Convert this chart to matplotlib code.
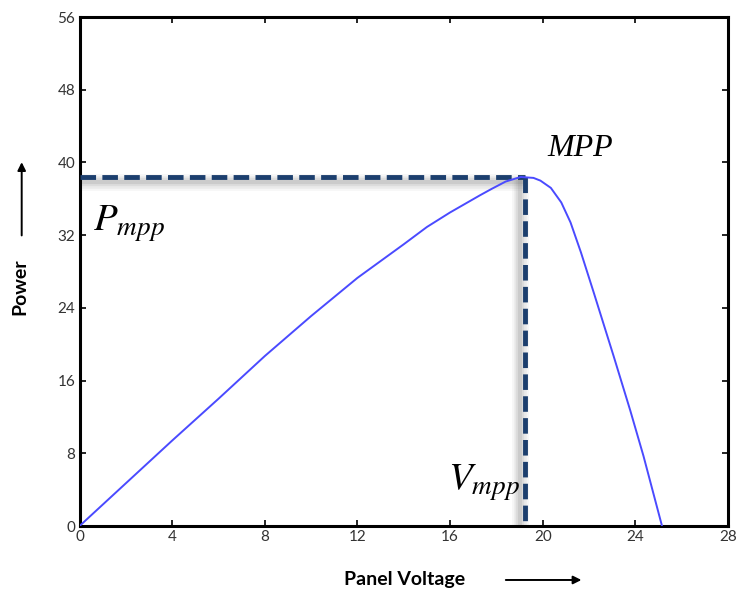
import matplotlib
matplotlib.use("Agg")
import matplotlib.pyplot as plt
import matplotlib.transforms as mtransforms

# ---- data ----
voltage = [0, 2, 4, 6, 8, 10, 12, 14, 15, 16, 17.3, 17.8, 18.4, 19.05, 19.6,
           19.9, 20.35, 20.8, 21.2, 21.65, 22.2, 23.06, 23.78, 24.35, 25.15]
power = [0, 4.7, 9.4, 14.0, 18.7, 23.1, 27.3, 31.0, 32.9, 34.5, 36.4, 37.1,
         37.9, 38.4, 38.3, 38.0, 37.2, 35.6, 33.4, 30.1, 25.7, 18.7, 12.7, 7.7, 0]
v_mpp = 19.23
p_mpp = 38.4
x_ticks = [0, 4, 8, 12, 16, 20, 24, 28]
y_ticks = [0, 8, 16, 24, 32, 40, 48, 56]

plt.rcParams['mathtext.fontset'] = 'stix'

fig = plt.figure(figsize=(7.48, 5.97), dpi=100)
ax = fig.add_axes([0.1063, 0.1189, 0.867, 0.8526])

ax.plot(voltage, power, color='#4a4aff', lw=1.4, zorder=4,
        solid_joinstyle='round')

# soft shadows of the MPP guide lines
navy = '#1c3f6e'
for off, lw, a in [(5, 12, 0.05), (5, 9, 0.07), (5, 6, 0.09), (5, 3, 0.12)]:
    tr_h = mtransforms.offset_copy(ax.transData, fig=fig, x=0, y=-off, units='dots')
    ax.plot([0, v_mpp], [p_mpp, p_mpp], color='#555555', lw=lw, alpha=a,
            transform=tr_h, solid_capstyle='butt', zorder=2)
    tr_v = mtransforms.offset_copy(ax.transData, fig=fig, x=-off, y=0, units='dots')
    ax.plot([v_mpp, v_mpp], [p_mpp, 0], color='#555555', lw=lw, alpha=a,
            transform=tr_v, solid_capstyle='butt', zorder=2)

ax.plot([0, v_mpp], [p_mpp, p_mpp], color=navy, lw=3.5,
        dashes=(3.2, 1.3), zorder=3)
ax.plot([v_mpp, v_mpp], [p_mpp, 0], color=navy, lw=3.5,
        dashes=(3.2, 1.3), zorder=3)

ax.text(20.2, 40.7, 'MPP', fontsize=23, fontstyle='italic',
        family='Liberation Serif', ha='left', va='baseline')
ax.text(0.6, 32.5, r'$P_{mpp}$', fontsize=28, ha='left', va='baseline')
ax.text(15.9, 3.95, r'$V_{mpp}$', fontsize=28, ha='left', va='baseline')

ax.set_xlim(0, 28)
ax.set_ylim(0, 56)
ax.set_xticks(x_ticks)
ax.set_yticks(y_ticks)
ax.tick_params(direction='in', length=4, width=1.2, top=True, right=True,
               labelsize=11, labelcolor='#333333', pad=3)
for lab in ax.get_xticklabels() + ax.get_yticklabels():
    lab.set_family('Lato')
for s in ax.spines.values():
    s.set_linewidth(2.2)

fig.text(0.541, 0.0285, 'Panel Voltage', fontsize=14, fontweight='bold',
         family='Lato', ha='center', va='center')
fig.text(0.027, 0.52, 'Power', fontsize=14, fontweight='bold',
         family='Lato', ha='center', va='center', rotation=90)
fig.add_artist(matplotlib.patches.FancyArrowPatch(
    (0.6725, 0.0285), (0.781, 0.0285), transform=fig.transFigure,
    arrowstyle='-|>', mutation_scale=12, color='black', lw=1.4))
fig.add_artist(matplotlib.patches.FancyArrowPatch(
    (0.029, 0.601), (0.029, 0.733), transform=fig.transFigure,
    arrowstyle='-|>', mutation_scale=12, color='black', lw=1.4))

fig.savefig('out.png', dpi=100)
